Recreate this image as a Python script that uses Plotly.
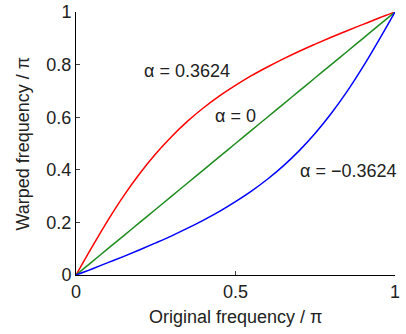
import plotly.graph_objects as go

x_vals = [0, 0.05, 0.1, 0.15, 0.2, 0.25, 0.3, 0.35, 0.4, 0.45, 0.5,
          0.55, 0.6, 0.65, 0.7, 0.75, 0.8, 0.85, 0.9, 0.95, 1.0]
warp_pos = [0, 0.106, 0.208, 0.302, 0.386, 0.461, 0.527, 0.585, 0.636, 0.681, 0.721,
            0.758, 0.791, 0.822, 0.851, 0.878, 0.904, 0.929, 0.953, 0.977, 1.0]
warp_zero = [0, 0.05, 0.1, 0.15, 0.2, 0.25, 0.3, 0.35, 0.4, 0.45, 0.5,
             0.55, 0.6, 0.65, 0.7, 0.75, 0.8, 0.85, 0.9, 0.95, 1.0]
warp_neg = [0, 0.023, 0.047, 0.071, 0.096, 0.122, 0.149, 0.178, 0.209, 0.242, 0.279,
            0.319, 0.364, 0.415, 0.473, 0.539, 0.614, 0.698, 0.792, 0.894, 1.0]

labels = ["α = 0.3624", "α = 0", "α = −0.3624"]
label_x = [0.348, 0.50, 0.855]
label_y = [0.775, 0.604, 0.394]

x_ticks = [0, 0.5, 1]
x_tick_text = ["0", "0.5", "1"]
y_ticks = [0, 0.2, 0.4, 0.6, 0.8, 1]
y_tick_text = ["0", "0.2", "0.4", "0.6", "0.8", "1"]

fig = go.Figure()
for ys, col in [(warp_pos, "#ff0000"), (warp_zero, "#1e8c1e"), (warp_neg, "#0000ff")]:
    fig.add_trace(go.Scatter(x=x_vals, y=ys, mode="lines", line=dict(color=col, width=1.5, shape="spline"),
                             cliponaxis=False, showlegend=False, hoverinfo="skip"))

for t, xx, yy in zip(labels, label_x, label_y):
    fig.add_annotation(x=xx, y=yy, text=t, showarrow=False, font=dict(size=18, color="#222"))

fig.add_annotation(xref="paper", yref="paper", x=0.5, y=-0.16, text="Original frequency / π",
                   showarrow=False, font=dict(size=18, color="#222"), xanchor="center", yanchor="middle")
fig.add_annotation(xref="paper", yref="paper", x=-0.169, y=0.5, text="Warped frequency / π",
                   showarrow=False, font=dict(size=18, color="#222"), textangle=-90,
                   xanchor="center", yanchor="middle")

font = "Liberation Sans, Arial, sans-serif"
fig.update_layout(
    width=406, height=334,
    margin=dict(l=76, r=11, t=12, b=59, autoexpand=False),
    paper_bgcolor="white", plot_bgcolor="white",
    font=dict(family=font, size=18, color="#222"),
)
fig.update_xaxes(range=[0, 1.0001], tickvals=x_ticks, ticktext=x_tick_text, ticks="inside", ticklen=4,
                 showline=True, linecolor="black", linewidth=1, showgrid=False, zeroline=False,
                 automargin=False, tickfont=dict(size=18), ticklabeloverflow="allow")
fig.update_yaxes(range=[0, 1.0001], tickvals=y_ticks, ticktext=y_tick_text, ticks="inside", ticklen=4,
                 showline=True, linecolor="black", linewidth=1, showgrid=False, zeroline=False,
                 automargin=False, tickfont=dict(size=18), ticklabeloverflow="allow")
fig.write_html("out.html", config={"displayModeBar": False},
               post_script="document.body.style.margin='0';document.body.style.padding='0';")
